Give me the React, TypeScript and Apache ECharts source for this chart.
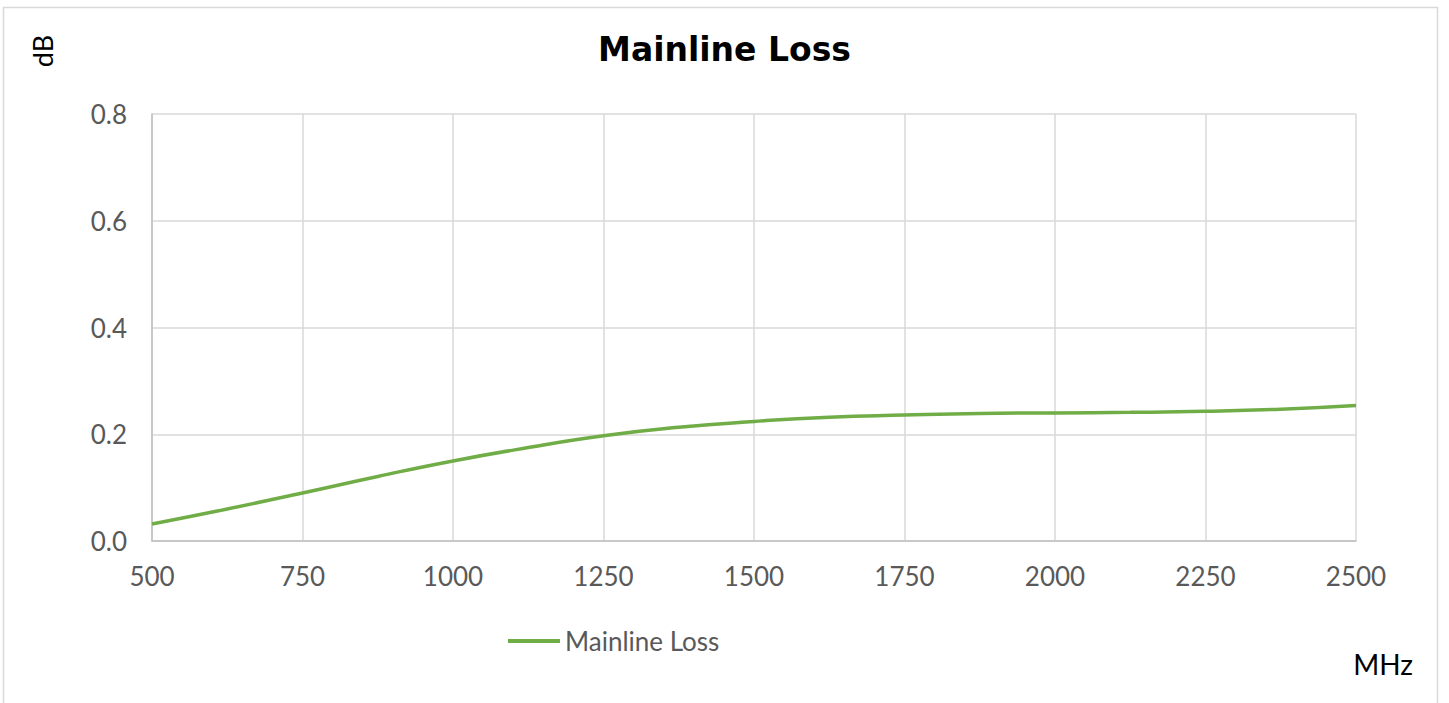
import React, { useEffect, useRef } from "react";
import * as echarts from "echarts";

const freqs = [500, 625, 750, 875, 1000, 1125, 1250, 1375, 1500, 1625, 1750, 1875, 2000, 2125, 2250, 2375, 2500];
const loss = [0.032, 0.06, 0.09, 0.121, 0.15, 0.175, 0.197, 0.213, 0.224, 0.232, 0.236, 0.239, 0.24, 0.241, 0.243, 0.247, 0.254];
const yTicks = [0, 0.2, 0.4, 0.6, 0.8];
const seriesName = "Mainline Loss";
const titleText = "Mainline Loss";

const FONT = "Lato, 'Noto Sans', sans-serif";
const TITLE_FONT = "'DejaVu Sans', sans-serif";

export default function App() {
  const ref = useRef<HTMLDivElement>(null);
  useEffect(() => {
    if (!ref.current) return;
    const chart = echarts.init(ref.current, null, { renderer: "svg" });
    chart.setOption({
      animation: false,
      backgroundColor: "#ffffff",
      title: {
        text: titleText,
        left: "center",
        top: 28,
        textStyle: { fontFamily: TITLE_FONT, fontSize: 33, fontWeight: "bold", color: "#000000" },
      },
      legend: {
        data: [seriesName],
        left: 503,
        top: 623,
        itemWidth: 52,
        itemHeight: 4,
        itemGap: 6,
        icon: "rect",
        textStyle: { fontFamily: FONT, fontSize: 26, color: "#595959" },
      },
      grid: { left: 152, right: 93, top: 114, bottom: 162, containLabel: false },
      xAxis: {
        type: "value",
        min: 500,
        max: 2500,
        interval: 250,
        axisLine: { show: true, lineStyle: { color: "#bfbfbf", width: 1.5 } },
        axisTick: { show: false },
        splitLine: { show: true, lineStyle: { color: "#d9d9d9", width: 1.5 } },
        axisLabel: {
          fontFamily: FONT,
          fontSize: 26,
          color: "#595959",
          margin: 22,
          formatter: (v: number) => String(v),
        },
      },
      yAxis: {
        type: "value",
        min: yTicks[0],
        max: yTicks[yTicks.length - 1],
        interval: 0.2,
        axisLine: { show: true, lineStyle: { color: "#bfbfbf", width: 1.5 } },
        axisTick: { show: false },
        splitLine: { show: true, lineStyle: { color: "#d9d9d9", width: 1.5 } },
        axisLabel: {
          fontFamily: FONT,
          fontSize: 26,
          color: "#595959",
          margin: 25,
          formatter: (v: number) => v.toFixed(1),
        },
      },
      series: [
        {
          name: seriesName,
          type: "line",
          smooth: true,
          showSymbol: false,
          data: freqs.map((f, i) => [f, loss[i]]),
          lineStyle: { color: "#70ad47", width: 3.5 },
          itemStyle: { color: "#70ad47" },
        },
      ],
      graphic: [
        {
          type: "rect",
          shape: { x: 3.5, y: 7.5, width: 1434, height: 705 },
          style: { fill: "none", stroke: "#d9d9d9", lineWidth: 1.5 },
          silent: true,
        },
        {
          type: "text",
          x: 42,
          y: 51,
          rotation: Math.PI / 2,
          style: {
            text: "dB",
            fontFamily: FONT,
            fontSize: 27,
            fill: "#000000",
            align: "center",
            verticalAlign: "middle",
          },
        },
        {
          type: "text",
          x: 1383,
          y: 664,
          style: {
            text: "MHz",
            fontFamily: FONT,
            fontSize: 28,
            fill: "#000000",
            align: "center",
            verticalAlign: "middle",
          },
        },
      ],
    });
    return () => chart.dispose();
  }, []);
  return (
    <div
      ref={ref}
      style={{ position: "fixed", left: 0, top: 0, width: 1449, height: 703 }}
    />
  );
}
